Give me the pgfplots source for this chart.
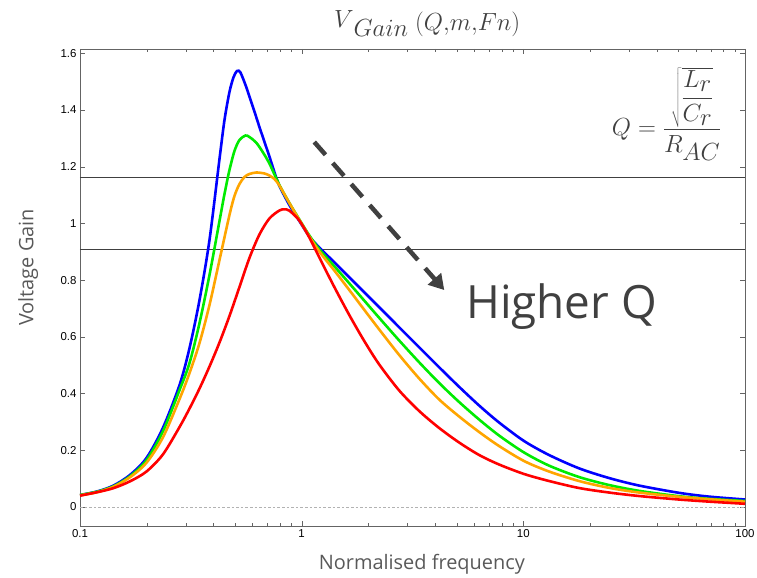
\documentclass[border=0pt]{standalone}
\usepackage{fontspec}
\setmainfont{Liberation Sans}
\newfontfamily\segoe{Open Sans}
\usepackage{pgfplots}
\pgfplotsset{compat=1.18}
\usetikzlibrary{arrows.meta}
\definecolor{cblue}{RGB}{0,0,255}
\definecolor{cgreen}{RGB}{0,235,0}
\definecolor{corange}{RGB}{255,165,0}
\definecolor{cred}{RGB}{255,0,0}
\definecolor{txtgray}{RGB}{64,64,64}
\definecolor{lblgray}{RGB}{89,89,89}
\definecolor{axgray}{RGB}{100,100,100}

\pgfplotstableread{
x y
0.1000 0.0423
0.1189 0.0543
0.1409 0.0748
0.1675 0.1121
0.1991 0.1717
0.2365 0.2786
0.2813 0.4302
0.3120 0.5606
0.3461 0.7299
0.3839 0.9415
0.4259 1.2271
0.4486 1.3646
0.4724 1.4633
0.4923 1.5145
0.5106 1.5374
0.5295 1.5321
0.5617 1.4820
0.5812 1.4475
0.6230 1.3763
0.6449 1.3399
0.7153 1.2359
0.7669 1.1625
0.7935 1.1319
0.8801 1.0649
0.9763 1.0085
1.0832 0.9538
1.2014 0.9150
1.4040 0.8628
1.6400 0.8099
1.9160 0.7571
2.2387 0.7042
2.7548 0.6336
3.390 0.5631
4.172 0.4926
5.133 0.4238
6.318 0.3579
7.772 0.2980
10.074 0.2327
13.055 0.1834
17.82 0.1365
24.32 0.1023
33.20 0.0758
50.28 0.0501
68.63 0.0367
100 0.0264
}\blue

\pgfplotstableread{
x y
0.1000 0.0423
0.1189 0.0536
0.1409 0.0723
0.1675 0.1075
0.1991 0.1640
0.2365 0.2662
0.2813 0.4126
0.3120 0.5078
0.3461 0.6488
0.3839 0.8181
0.4259 1.0085
0.4486 1.1037
0.4724 1.1883
0.4975 1.2553
0.5241 1.2941
0.5577 1.3099
0.5812 1.3047
0.6230 1.2853
0.6672 1.2518
0.7153 1.2112
0.7935 1.1354
0.8801 1.0719
0.9763 1.0138
1.0832 0.9573
1.2014 0.9087
1.4040 0.8487
1.6400 0.7888
1.9160 0.7278
2.2387 0.6668
2.7548 0.5871
3.390 0.5102
4.172 0.4372
5.133 0.3702
6.318 0.3085
7.772 0.2521
10.074 0.1922
13.055 0.1460
17.82 0.1058
24.32 0.0776
33.20 0.0571
50.28 0.0381
68.63 0.0289
100 0.0212
}\green

\pgfplotstableread{
x y
0.1000 0.0413
0.1189 0.0518
0.1409 0.0705
0.1675 0.1040
0.1991 0.1551
0.2365 0.2451
0.2813 0.3808
0.3120 0.4725
0.3461 0.5783
0.3839 0.7123
0.4259 0.8709
0.4724 1.0296
0.4975 1.0966
0.5241 1.1389
0.5520 1.1636
0.5812 1.1742
0.6250 1.1795
0.6792 1.1760
0.7153 1.1689
0.7534 1.1566
0.7935 1.1336
0.8801 1.0719
0.9763 1.0120
1.0832 0.9538
1.2014 0.9009
1.4040 0.8339
1.6400 0.7652
1.9160 0.6953
2.2387 0.6259
2.7548 0.5360
3.390 0.4531
4.172 0.3791
5.133 0.3191
6.318 0.2645
7.772 0.2151
10.074 0.1622
13.055 0.1252
17.82 0.0917
24.32 0.0677
33.20 0.0511
50.28 0.0360
68.63 0.0275
100 0.0187
}\orange

\pgfplotstableread{
x y
0.1000 0.0398
0.1189 0.0518
0.1409 0.0659
0.1675 0.0899
0.1991 0.1245
0.2365 0.1851
0.2813 0.2821
0.3120 0.3473
0.3461 0.4178
0.3839 0.4954
0.4259 0.5800
0.4724 0.6735
0.5241 0.7757
0.5812 0.8780
0.6449 0.9609
0.7153 1.0173
0.7935 1.0455
0.8358 1.0497
0.8801 1.0448
0.9763 1.0102
1.0832 0.9503
1.2014 0.8798
1.4040 0.7757
1.6400 0.6770
1.9160 0.5853
2.2387 0.5025
2.7548 0.4108
3.390 0.3385
4.172 0.2786
5.133 0.2274
6.318 0.1834
7.772 0.1499
10.074 0.1164
13.055 0.0917
17.82 0.0670
24.32 0.0511
33.20 0.0388
50.28 0.0264
68.63 0.0190
100 0.0113
}\red

\begin{document}
\begin{tikzpicture}
\path[use as bounding box] (-80bp,-52bp) rectangle (677bp,526bp);
\begin{axis}[
  scale only axis, width=665bp, height=477bp,
  xmode=log, xmin=0.1, xmax=100, ymin=-0.067, ymax=1.615,
  xtick={0.1,1,10,100}, xticklabels={0.1,1,10,100},
  minor xtick={0.2,0.3,0.4,0.5,0.6,0.7,0.8,0.9,2,3,4,5,6,7,8,9,20,30,40,50,60,70,80,90},
  ytick={0,0.2,0.4,0.6,0.8,1,1.2,1.4,1.6},
  yticklabel style={/pgf/number format/fixed},
  /pgf/number format/assume math mode=true,
  tick label style={font=\fontsize{11.5}{13}\selectfont, text=black},
  axis line style={axgray},
  tick style={axgray},
  major tick length=5bp, minor tick length=3bp,
  xlabel={Normalised frequency},
  ylabel={Voltage Gain},
  xlabel style={font=\segoe\fontsize{20}{24}\selectfont, text=lblgray,
    at={(axis description cs:0.514,-0.08)}, anchor=center},
  ylabel style={font=\segoe\fontsize{20}{24}\selectfont, text=lblgray,
    at={(axis description cs:-0.078,0.542)}, anchor=center},
  title={{\fontsize{31}{32}\selectfont$V$}\raisebox{-9bp}{\fontsize{26}{30}\selectfont$Gain$}\hspace{7bp}\raisebox{-3bp}{\fontsize{29}{30}\selectfont$(Q{,}m{,}Fn)$}},
  title style={text=txtgray, at={(axis description cs:0.522,1)}, anchor=base, yshift=16bp},
  every axis plot/.append style={line width=2.6bp},
]
\addplot[gray!60, dotted, line width=0.6bp] coordinates {(0.1,0) (100,0)};
\addplot[txtgray, line width=0.8bp] coordinates {(0.1,1.161) (100,1.161)};
\addplot[txtgray, line width=0.8bp] coordinates {(0.1,0.91) (100,0.91)};
\addplot[cblue, smooth] table {\blue};
\addplot[cgreen, smooth] table {\green};
\addplot[corange, smooth] table {\orange};
\addplot[cred, smooth] table {\red};
\draw[txtgray, line width=4.5bp, dash pattern=on 17bp off 11bp, -{Triangle[length=15bp,width=17bp]}]
  (axis cs:1.14,1.287) -- (axis cs:4.40,0.765);
\node[anchor=base west, font=\segoe\fontsize{46}{54}\selectfont, text=txtgray, inner sep=0]
  at (axis cs:5.52,0.666) {Higher Q};
\node[anchor=north east, text=txtgray, font=\fontsize{34}{40}\selectfont, inner sep=0]
  at (rel axis cs:0.965,0.962) {$\displaystyle Q=\frac{\sqrt{\displaystyle\frac{L_r}{C_r}}}{R_{AC}}$};
\end{axis}
\end{tikzpicture}
\end{document}
